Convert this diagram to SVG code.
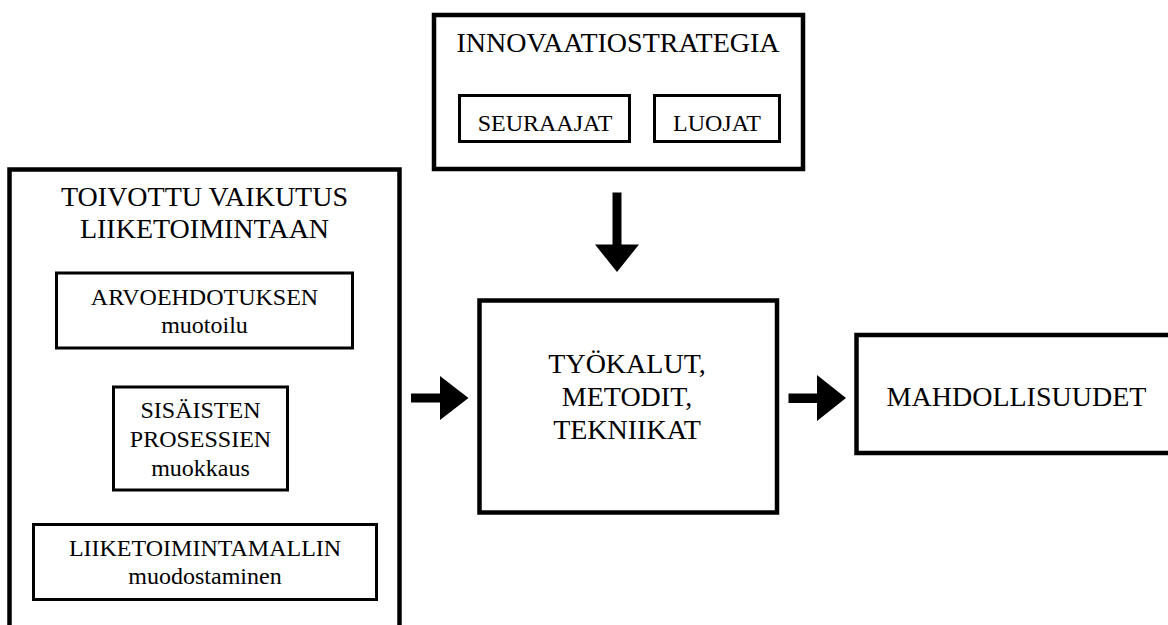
<svg xmlns="http://www.w3.org/2000/svg" width="1168" height="625" viewBox="0 0 1168 625">
<style>
.big{fill:#fff;stroke:#000;stroke-width:4.5}
.small{fill:#fff;stroke:#000;stroke-width:3}
text{font-family:'Liberation Serif','DejaVu Serif','Times New Roman',Times,serif;fill:#000;text-anchor:middle}
.h{font-size:28px}
.s{font-size:24px}
.arrow{fill:#000;stroke:none}
</style>
<rect width="1168" height="625" fill="#fff"/>
<g id="innovaatiostrategia">
<rect class="big" x="434" y="15" width="369" height="154"/>
<text class="h" x="618" y="52">INNOVAATIOSTRATEGIA</text>
</g>
<g id="seuraajat">
<rect class="small" x="459.5" y="95.5" width="170" height="46"/>
<text class="s" x="545" y="131">SEURAAJAT</text>
</g>
<g id="luojat">
<rect class="small" x="654.5" y="95.5" width="125" height="46"/>
<text class="s" x="717" y="131">LUOJAT</text>
</g>
<g id="toivottu">
<rect class="big" x="9.5" y="169.5" width="390" height="480"/>
<text class="h" x="204.5" y="205.5">TOIVOTTU VAIKUTUS</text>
<text class="h" x="204.5" y="238">LIIKETOIMINTAAN</text>
</g>
<g id="arvoehdotuksen">
<rect class="small" x="56.5" y="273" width="296" height="75"/>
<text class="s" x="204.5" y="305">ARVOEHDOTUKSEN</text>
<text class="s" x="204.5" y="332.5">muotoilu</text>
</g>
<g id="sisaisten">
<rect class="small" x="113.5" y="387" width="174" height="103"/>
<text class="s" x="200.5" y="418">SISÄISTEN</text>
<text class="s" x="200.5" y="447">PROSESSIEN</text>
<text class="s" x="200.5" y="476">muokkaus</text>
</g>
<g id="liiketoimintamallin">
<rect class="small" x="33.5" y="524.5" width="343" height="75"/>
<text class="s" x="205" y="556">LIIKETOIMINTAMALLIN</text>
<text class="s" x="205" y="584">muodostaminen</text>
</g>
<g id="tyokalut">
<rect class="big" x="479.5" y="300.5" width="297.5" height="212"/>
<text class="h" x="627" y="373">TYÖKALUT,</text>
<text class="h" x="627" y="406">METODIT,</text>
<text class="h" x="627" y="438.5">TEKNIIKAT</text>
</g>
<g id="mahdollisuudet">
<rect class="big" x="856.5" y="335" width="320" height="118"/>
<text class="h" x="1016.5" y="405.5">MAHDOLLISUUDET</text>
</g>
<g id="connectors">
<polygon class="arrow" points="612.5,192.5 621.5,192.5 621.5,244.5 639,244.5 617,272 595,244.5 612.5,244.5"/>
<polygon class="arrow" points="411,393.5 440,393.5 440,376 468.5,398 440,420 440,402.5 411,402.5"/>
<polygon class="arrow" points="788.5,393.5 817,393.5 817,375 846,398 817,421 817,403 788.5,403"/>
</g>
</svg>
